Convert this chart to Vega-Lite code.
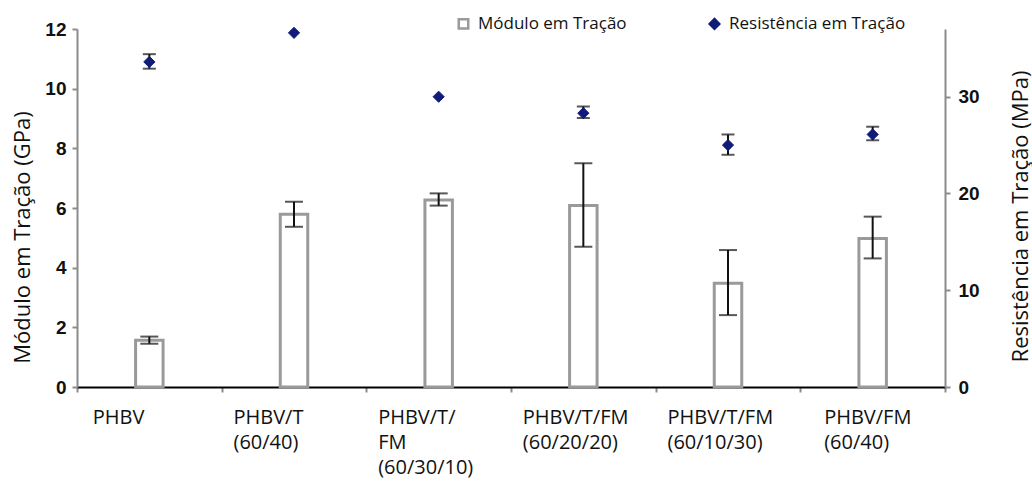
{
  "$schema": "https://vega.github.io/schema/vega-lite/v6.json",
  "width": 868,
  "height": 358,
  "autosize": {"type": "none"},
  "padding": {"left": 77, "top": 29, "right": 87, "bottom": 96},
  "background": "white",
  "config": {
    "view": {"stroke": null},
    "font": "Open Sans",
    "axis": {"grid": false},
    "legend": {
      "orient": "none",
      "legendX": 378,
      "legendY": -14,
      "direction": "horizontal",
      "labelFont": "Open Sans",
      "labelFontSize": 17,
      "labelColor": "#111111",
      "labelLimit": 400,
      "symbolSize": 90,
      "symbolStrokeWidth": 2.5,
      "columnPadding": 77,
      "labelOffset": 6,
      "padding": 0
    }
  },
  "data": {
    "values": [
      {"cat": "PHBV", "mod": 1.57, "modLo": 1.45, "modHi": 1.69, "res": 33.6, "resLo": 32.9, "resHi": 34.4},
      {"cat": "PHBV/T (60/40)", "mod": 5.79, "modLo": 5.37, "modHi": 6.21, "res": 36.6, "resLo": null, "resHi": null},
      {"cat": "PHBV/T/ FM (60/30/10)", "mod": 6.27, "modLo": 6.08, "modHi": 6.49, "res": 30.0, "resLo": null, "resHi": null},
      {"cat": "PHBV/T/FM (60/20/20)", "mod": 6.08, "modLo": 4.7, "modHi": 7.5, "res": 28.3, "resLo": 27.8, "resHi": 29.0},
      {"cat": "PHBV/T/FM (60/10/30)", "mod": 3.48, "modLo": 2.41, "modHi": 4.59, "res": 25.0, "resLo": 24.0, "resHi": 26.1},
      {"cat": "PHBV/FM (60/40)", "mod": 4.98, "modLo": 4.31, "modHi": 5.71, "res": 26.1, "resLo": 25.5, "resHi": 26.9}
    ]
  },
  "encoding": {
    "x": {
      "field": "cat",
      "type": "nominal",
      "sort": null,
      "scale": {"paddingInner": 0, "paddingOuter": 0},
      "axis": {
        "title": null,
        "labelExpr": "split(datum.label, ' ')",
        "labelAngle": 0,
        "labelAlign": "left",
        "labelBaseline": "top",
        "labelOffset": {"condition": [{"test": "datum.value === 'PHBV'", "value": -57}, {"test": "datum.value === 'PHBV/FM (60/40)'", "value": -49}], "value": -61},
        "labelPadding": 15,
        "labelFont": "Open Sans",
        "labelFontSize": 20,
        "labelLineHeight": 25,
        "labelColor": "#111111",
        "labelBound": false,
        "labelOverlap": false,
        "labelLimit": 300,
        "domainColor": "#000000",
        "domainWidth": 2,
        "tickColor": "#8c8c8c",
        "tickWidth": 2,
        "tickSize": 5,
        "tickBand": "extent"
      }
    }
  },
  "layer": [
    {
      "mark": {"type": "bar", "width": {"band": 0.19}, "strokeWidth": 3},
      "encoding": {
        "y": {
          "field": "mod",
          "type": "quantitative",
          "scale": {"domain": [0, 12], "nice": false, "zero": true},
          "axis": {
            "title": "Módulo em Tração (GPa)",
            "values": [0, 2, 4, 6, 8, 10, 12],
            "labelFont": "Liberation Sans",
            "labelFontWeight": "bold",
            "labelFontSize": 19,
            "labelColor": "#111111",
            "labelPadding": 6,
            "domainColor": "#8c8c8c",
            "domainWidth": 2,
            "tickColor": "#8c8c8c",
            "tickWidth": 2,
            "tickSize": 5,
            "titleFont": "Open Sans",
            "titleFontSize": 22,
            "titleFontWeight": "normal",
            "titleColor": "#111111",
            "titleAngle": 270,
            "titleX": -55,
            "titleY": 208,
            "titleAlign": "center",
            "titleBaseline": "middle"
          }
        },
        "fill": {
          "datum": "Módulo em Tração",
          "type": "nominal",
          "scale": {"domain": ["Módulo em Tração", "Resistência em Tração"], "range": ["#ffffff", "#0f1d78"]},
          "legend": {"title": null}
        },
        "stroke": {
          "datum": "Módulo em Tração",
          "type": "nominal",
          "scale": {"domain": ["Módulo em Tração", "Resistência em Tração"], "range": ["#9a9a9a", "#0f1d78"]},
          "legend": {"title": null}
        }
      }
    },
    {
      "mark": {"type": "rule", "color": "#111111", "strokeWidth": 2},
      "encoding": {
        "y": {"field": "modLo", "type": "quantitative", "scale": {"domain": [0, 12], "nice": false, "zero": true}, "axis": null},
        "y2": {"field": "modHi"}
      }
    },
    {
      "mark": {"type": "tick", "color": "#111111", "thickness": 2, "size": 18},
      "encoding": {"y": {"field": "modLo", "type": "quantitative", "scale": {"domain": [0, 12], "nice": false, "zero": true}, "axis": null}}
    },
    {
      "mark": {"type": "tick", "color": "#111111", "thickness": 2, "size": 18},
      "encoding": {"y": {"field": "modHi", "type": "quantitative", "scale": {"domain": [0, 12], "nice": false, "zero": true}, "axis": null}}
    },
    {
      "mark": {"type": "rule", "color": "#111111", "strokeWidth": 2},
      "encoding": {
        "y": {"field": "resLo", "type": "quantitative", "scale": {"domain": [0, 37], "nice": false, "zero": true}, "axis": null},
        "y2": {"field": "resHi"}
      }
    },
    {
      "mark": {"type": "tick", "color": "#111111", "thickness": 2, "size": 13},
      "encoding": {"y": {"field": "resLo", "type": "quantitative", "scale": {"domain": [0, 37], "nice": false, "zero": true}, "axis": null}}
    },
    {
      "mark": {"type": "tick", "color": "#111111", "thickness": 2, "size": 13},
      "encoding": {"y": {"field": "resHi", "type": "quantitative", "scale": {"domain": [0, 37], "nice": false, "zero": true}, "axis": null}}
    },
    {
      "mark": {"type": "point", "filled": true, "size": 125, "opacity": 1, "strokeWidth": 1},
      "encoding": {
        "y": {
          "field": "res",
          "type": "quantitative",
          "scale": {"domain": [0, 37], "nice": false, "zero": true},
          "axis": {
            "orient": "right",
            "title": "Resistência em Tração (MPa)",
            "values": [0, 10, 20, 30],
            "labelFont": "Liberation Sans",
            "labelFontWeight": "bold",
            "labelFontSize": 19,
            "labelColor": "#111111",
            "labelPadding": 8,
            "domainColor": "#8c8c8c",
            "domainWidth": 2,
            "tickColor": "#8c8c8c",
            "tickWidth": 2,
            "tickSize": 5,
            "titleFont": "Open Sans",
            "titleFontSize": 22,
            "titleFontWeight": "normal",
            "titleColor": "#111111",
            "titleAngle": 270,
            "titleX": 75,
            "titleY": 187,
            "titleAlign": "center",
            "titleBaseline": "middle"
          }
        },
        "shape": {
          "datum": "Resistência em Tração",
          "type": "nominal",
          "scale": {"domain": ["Módulo em Tração", "Resistência em Tração"], "range": ["square", "diamond"]},
          "legend": {"title": null}
        },
        "fill": {
          "datum": "Resistência em Tração",
          "type": "nominal",
          "legend": {"title": null}
        },
        "stroke": {
          "datum": "Resistência em Tração",
          "type": "nominal",
          "legend": {"title": null}
        }
      }
    }
  ],
  "resolve": {"scale": {"y": "independent"}}
}
